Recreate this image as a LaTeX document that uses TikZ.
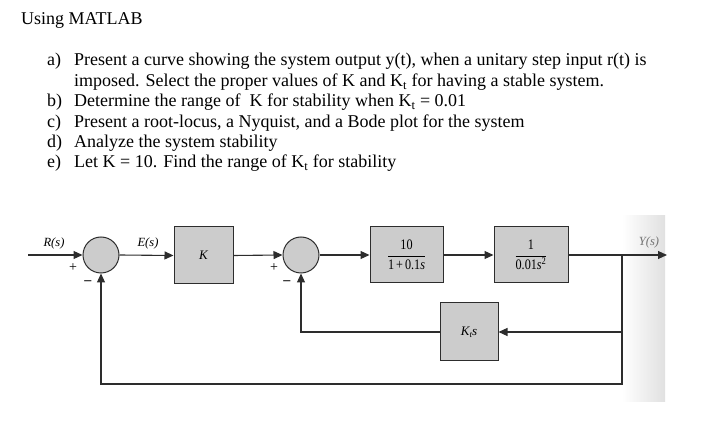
\documentclass[tikz,border=0pt]{standalone}
\usepackage{fontspec}
\usepackage{graphicx}
\setmainfont{Liberation Serif}
\usetikzlibrary{arrows.meta}
\definecolor{blockgray}{RGB}{204,204,204}
\definecolor{linegray}{RGB}{45,45,45}
\newcommand{\tfr}[2]{\scalebox{0.84}[1]{\fontsize{14.5}{16}\selectfont$\displaystyle\frac{\mbox{#1}}{\mbox{#2}}$}}
\tikzset{
  txt/.style={anchor=base west, inner sep=0pt, font=\fontsize{18}{20}\selectfont},
  lbl/.style={inner sep=0pt, font=\fontsize{12.5}{14}\selectfont\itshape},
  blk/.style={draw=linegray, line width=1pt, fill=blockgray, inner sep=0pt},
  sumc/.style={circle, draw=linegray, line width=1pt, fill=blockgray, minimum size=36pt, inner sep=0pt},
  sig/.style={inner sep=0pt, font=\fontsize{14}{16}\selectfont},
  conn/.style={draw=linegray, line width=1.1pt},
  arr/.style={conn, -{Triangle[length=9pt,width=8pt]}}
}
\begin{document}
\begin{tikzpicture}[x=1pt,y=-1pt]
\useasboundingbox (0,0) rectangle (718,427);
% page-edge shading
\shade[left color=white, right color=black!12] (622,216) rectangle (665,402);
% text
\node[txt] (t0) at (21,25) {Using MATLAB};
\node[txt] (la) at (47,66) {a)};
\node[txt] (ta) at (74,66) {Present a curve showing the system output y(t), when a unitary step input r(t) is};
\node[txt] (ta2) at (74,87) {imposed. Select the proper values of K and K\textsubscript{t} for having a stable system.};
\node[txt] (lb) at (47,107) {b)};
\node[txt] (tb) at (74,107) {Determine the range of \ K for stability when K\textsubscript{t} = 0.01};
\node[txt] (lc) at (47,128) {c)};
\node[txt] (tc) at (74,128) {Present a root-locus, a Nyquist, and a Bode plot for the system};
\node[txt] (ld) at (47,148) {d)};
\node[txt] (td) at (74,148) {Analyze the system stability};
\node[txt] (le) at (47,168) {e)};
\node[txt] (te) at (74,168) {Let K = 10. Find the range of K\textsubscript{t} for stability};
% block diagram
\coordinate (in) at (28,255);
\node[sumc] (s1) at (101,255) {};
\node[blk, minimum width=59pt, minimum height=57pt] (K) at (203.5,255.5) {\fontsize{13}{15}\selectfont\itshape K};
\node[sumc] (s2) at (301,255) {};
\node[blk, minimum width=73pt, minimum height=56pt] (G1) at (406.5,255) {\tfr{10}{1\,+\,0.1\textit{s}}};
\node[blk, minimum width=74pt, minimum height=56pt] (G2) at (531,255) {\tfr{1}{0.01\textit{s}\textsuperscript{2}}};
\node[blk, minimum width=58pt, minimum height=58pt] (Kt) at (469,332) {\fontsize{13}{15}\selectfont\itshape K\raisebox{-0.35ex}{\fontsize{9}{10}\selectfont t}s};
\coordinate (br) at (622,255);
\coordinate (out) at (667,255);
\coordinate (b1) at (622,332);
\coordinate (b2) at (622,384);
\node[lbl] (R) at (54,243) {R(s)};
\node[lbl] (E) at (148,243) {E(s)};
\node[lbl, text=black!55] (Y) at (649,242) {Y(s)};
\node[sig] (p1) at (73,268) {+};
\node[sig] (m1) at (88,283) {\textbf{--}};
\node[sig] (p2) at (274,268) {+};
\node[sig] (m2) at (287,283) {\textbf{--}};
\draw[arr] (in) -- (s1.west);
\draw[arr] (s1.east) -- (K.west);
\draw[arr] (K.east) -- (s2.west);
\draw[arr] (s2.east) -- (G1.west);
\draw[arr] (G1.east) -- (G2.west);
\draw[arr] (G2.east) -- (out);
\draw[arr] (br) -- (b1) -- (Kt.east);
\draw[arr] (Kt.west) -| (s2.south);
\draw[arr] (b1) -- (b2) -| (s1.south);
\end{tikzpicture}
\end{document}
